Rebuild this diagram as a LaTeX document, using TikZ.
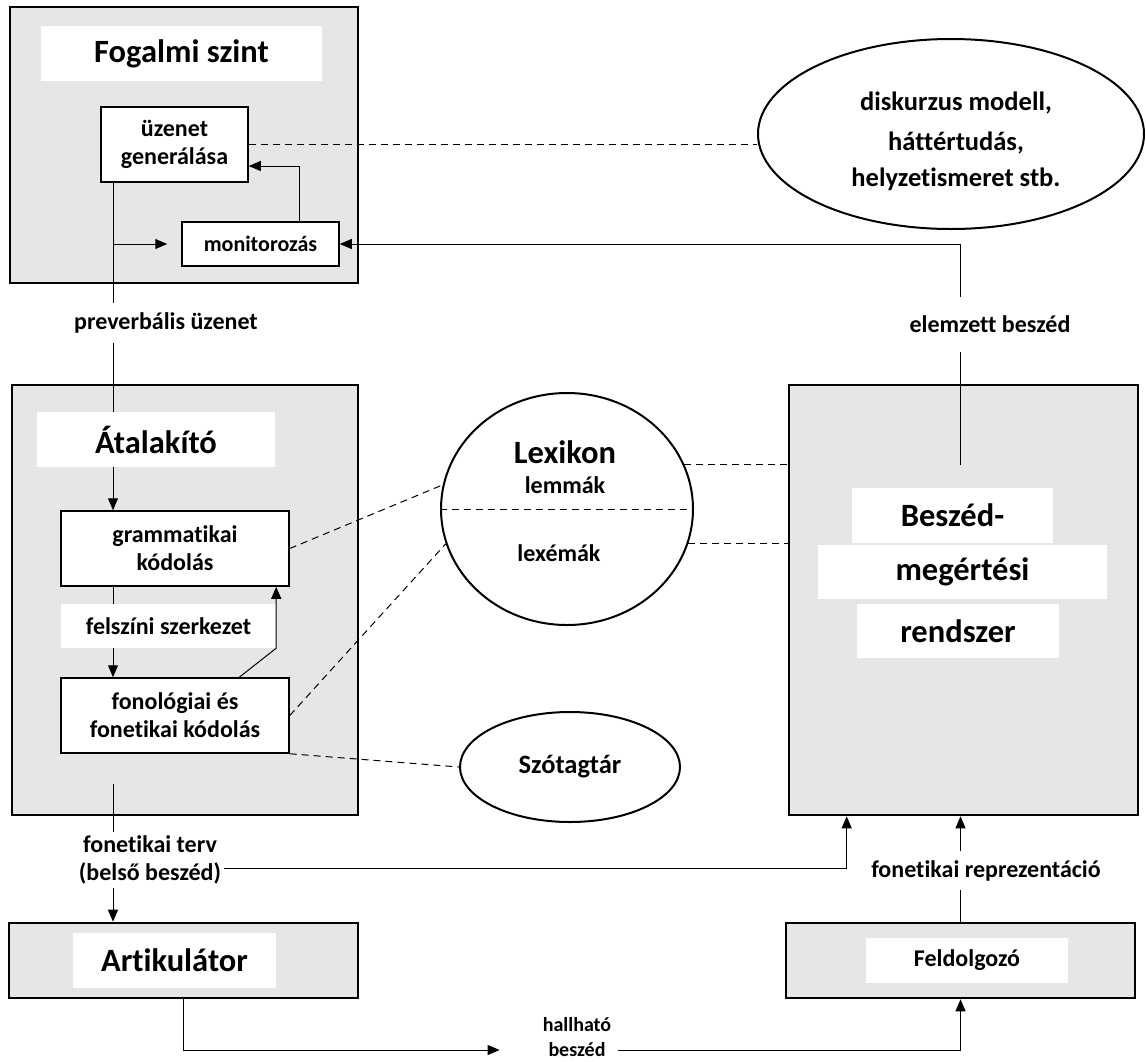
\documentclass[tikz,border=0pt]{standalone}
\usepackage{fontspec}
\setmainfont{Carlito}[Ligatures=NoCommon]
\usetikzlibrary{arrows.meta,shapes.geometric}
\definecolor{boxgray}{RGB}{230,230,230}
\tikzset{
  panel/.style={draw, line width=2.6pt, fill=boxgray, inner sep=0pt},
  whitelbl/.style={fill=white, inner sep=0pt},
  inbox/.style={draw, line width=1.5pt, fill=white, align=center, inner sep=0pt},
  oval/.style={draw, ellipse, line width=2pt, fill=white, inner sep=0pt},
  fbig/.style={font=\fontsize{32.5}{38}\selectfont\bfseries},
  fmid/.style={font=\fontsize{26.5}{36}\selectfont\bfseries},
  fsmall/.style={font=\fontsize{24}{28}\selectfont\bfseries},
  fmon/.style={font=\fontsize{22}{26}\selectfont\bfseries},
  fsmaller/.style={font=\fontsize{20}{25}\selectfont\bfseries},
  txtlbl/.style={fill=white, inner xsep=3pt, inner ysep=0pt, align=center},
  conn/.style={line width=1pt},
  arr/.style={conn, -{Triangle[length=12pt,width=10pt]}},
  dashln/.style={line width=1pt, dash pattern=on 7pt off 5pt},
}
\begin{document}
\begin{tikzpicture}[x=1pt, y=-1pt]
\useasboundingbox (0,0) rectangle (1146,1061);

% Fogalmi szint
\node[panel, minimum width=348pt, minimum height=276pt] (fogalmi) at (184,145) {};
\node[whitelbl, fbig, minimum width=281pt, minimum height=55pt] (ftitle) at (181.5,53.5) {Fogalmi szint};
\node[inbox, fsmall, minimum width=147pt, minimum height=75pt] (uzenet) at (174.5,144.5) {üzenet\\generálása};
\node[inbox, fmon, minimum width=157pt, minimum height=44pt] (monitor) at (260.5,244) {monitorozás};

% diskurzus modell
\node[oval, minimum width=386pt, minimum height=190pt] (disk) at (951,134) {};
\node[fmid, align=center] (disktext) at (956,141) {diskurzus modell,\\[4pt]háttértudás,\\helyzetismeret stb.};

% Átalakító
\node[panel, minimum width=346pt, minimum height=430pt] (atal) at (185,600) {};
\node[whitelbl, fbig, minimum width=238pt, minimum height=55pt] (atitle) at (156,439.5) {Átalakító};
\node[inbox, fsmall, minimum width=228pt, minimum height=75pt] (gram) at (175,548.5) {grammatikai\\kódolás};
\node[whitelbl, fsmall, minimum width=215pt, minimum height=44pt] (felsz) at (168.5,626) {felszíni szerkezet\hspace{12pt}};
\node[inbox, fsmall, minimum width=228pt, minimum height=75pt] (fono) at (175,715.5) {fonológiai és\\fonetikai kódolás};

% Lexikon, Szótagtár
\node[oval, minimum width=252pt, minimum height=232pt] (lex) at (567,509) {};
\node[fbig] (lexname) at (565,452) {Lexikon};
\node[fsmall] (lemma) at (565,485) {lemmák};
\node[fsmall] (lexema) at (559,553) {lexémák};
\node[oval, fmid, minimum width=220pt, minimum height=110pt] (szotag) at (570,767) {Szótagtár};

% Beszédmegértési rendszer
\node[panel, minimum width=349pt, minimum height=430pt] (beszed) at (963.5,600) {};
\node[whitelbl, fbig, minimum width=201pt, minimum height=55pt] (bsz1) at (952.5,515.5) {Beszéd-};
\node[whitelbl, fbig, minimum width=289pt, minimum height=54pt] (bsz2) at (962.5,572) {megértési};
\node[whitelbl, fbig, minimum width=202pt, minimum height=54pt] (bsz3) at (958,631) {rendszer};

% Artikulátor, Feldolgozó
\node[panel, minimum width=349pt, minimum height=75pt] (artik) at (183.5,960.5) {};
\node[whitelbl, fbig, minimum width=203pt, minimum height=55pt] (artikt) at (174.5,960.5) {Artikulátor};
\node[panel, minimum width=349pt, minimum height=75pt] (feld) at (960.5,960.5) {};
\node[whitelbl, fsmall, minimum width=202pt, minimum height=45pt] (feldt) at (967,960.5) {Feldolgozó};

% feliratok
\node[txtlbl, fsmall, minimum height=40pt] (preverb) at (166,323) {preverbális üzenet};
\node[txtlbl, fsmall, minimum height=55pt] (elemzett) at (990,324.5) {elemzett beszéd};
\node[txtlbl, fsmall, minimum height=56pt] (ftv) at (150,860) {fonetikai terv\\(belső beszéd)};
\node[txtlbl, fsmall, minimum height=39pt] (frep) at (986,870.5) {fonetikai reprezentáció};
\node[txtlbl, fsmaller] (hall) at (577,1037) {hallható\\beszéd};

% nyilak
\coordinate (col) at (113,0);
\draw[conn] (uzenet.south -| col) -- (preverb.north -| col);
\draw[arr] (monitor.west -| col) -- ([xshift=-14pt]monitor.west);
\draw[arr] ([xshift=38.5pt]monitor.north) |- ([yshift=-21.5pt]uzenet.east);
\draw[dashln] (uzenet.east) -- (uzenet.east -| disk.west);

\draw[conn] (preverb.south -| col) -- (atitle.north -| col);
\draw[arr] (atitle.south -| col) -- (gram.north -| col);
\draw[conn] (gram.south -| col) -- (felsz.north -| col);
\draw[arr] (felsz.south -| col) -- (fono.north -| col);
\draw[arr] ([xshift=179pt]fono.north west) -- (felsz.south east) -- (felsz.south east |- gram.south);

% szaggatott vonalak
\draw[dashln] (gram.east) -- (lex.169);
\draw[dashln] (fono.east) -- (lex.196);
\draw[dashln] (fono.south east) -- (szotag.west);
\draw[dashln] (lex.west) -- (lex.east);
\draw[dashln] (lex.21) -- (lex.21 -| beszed.west);
\draw[dashln] (lex.344) -- (lex.344 -| beszed.west);

% elemzett beszéd
\coordinate (fb) at (960,465);
\draw[conn] (fb) -- (fb |- elemzett.south);
\draw[arr] (fb |- elemzett.north) |- (monitor.east);

% fonetikai terv
\coordinate (tv) at (113,784);
\draw[conn] (tv) -- (ftv.north -| col);
\draw[arr] (ftv.south -| col) -- (artik.north -| col);
\draw[arr] ([yshift=-8pt]ftv.east) -| ([xshift=59pt]beszed.south west);

% hallható beszéd
\draw[arr] (artik.south) |- ([xshift=-40pt,yshift=-13pt]hall.west);
\draw[arr] ([xshift=4pt,yshift=-13pt]hall.east) -| (feld.south);

% fonetikai reprezentáció
\draw[conn] (feld.north) -- (feld.north |- frep.south);
\draw[arr] (feld.north |- frep.north) -- (feld.north |- beszed.south);
\end{tikzpicture}
\end{document}
